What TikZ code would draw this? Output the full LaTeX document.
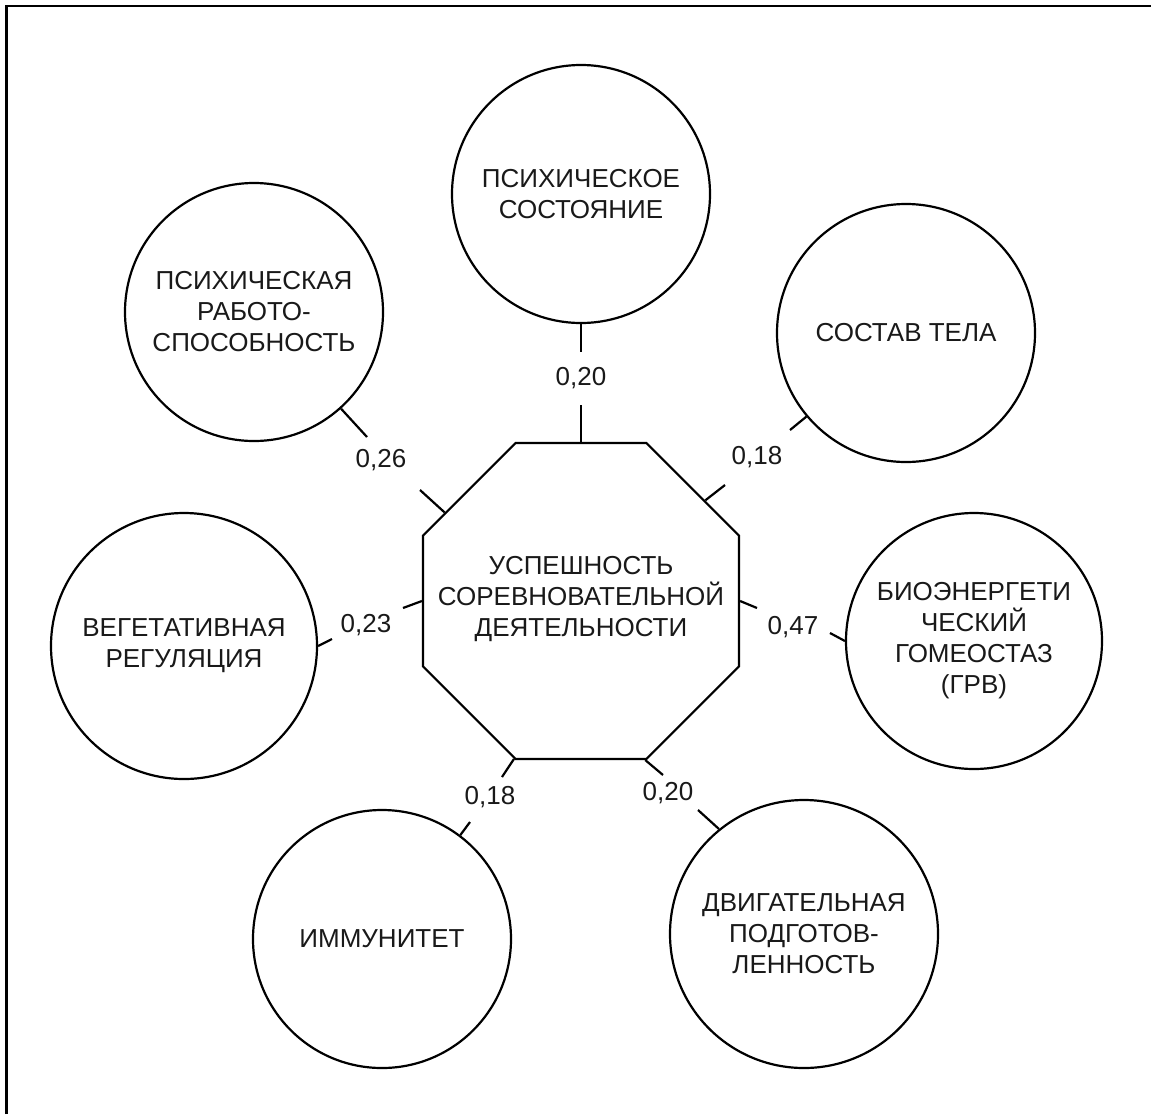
\documentclass[tikz,border=0pt]{standalone}
\usepackage{fontspec}
\setmainfont{Liberation Sans}
\usetikzlibrary{shapes.geometric}
\begin{document}
\begin{tikzpicture}[x=1pt,y=-1pt,
  every node/.style={font=\fontsize{26}{31}\selectfont, text=black!90},
  factor/.style={circle, draw, line width=2.2pt, align=center, inner sep=0pt},
  hub/.style={regular polygon, regular polygon sides=8, draw, line width=2.2pt, minimum size=342pt, inner sep=0pt},
  hubtext/.style={align=center, inner sep=0pt},
  link/.style={line width=2.2pt},
  wt/.style={inner sep=0pt}]
\useasboundingbox (0,0) rectangle (1151,1114);
\fill[white] (0,0) rectangle (1151,1114);
\draw[line width=2.8pt] (6.5,1114) -- (6.5,6) -- (1151,6);

% hub
\node[hub] (hub) at (581,601) {};
\node[hubtext] (hubt) at (581,599) {УСПЕШНОСТЬ\\СОРЕВНОВАТЕЛЬНОЙ\\ДЕЯТЕЛЬНОСТИ};

% factors
\node[factor, minimum size=258pt] (c1) at (581,194) {ПСИХИЧЕСКОЕ\\СОСТОЯНИЕ};
\node[factor, minimum size=258pt] (c2) at (254,312) {ПСИХИЧЕСКАЯ\\РАБОТО-\\СПОСОБНОСТЬ};
\node[factor, minimum size=258pt] (c3) at (906,333) {СОСТАВ ТЕЛА};
\node[factor, minimum size=266pt] (c4) at (184,646) {ВЕГЕТАТИВНАЯ\\РЕГУЛЯЦИЯ};
\node[factor, minimum size=256pt] (c5) at (974,641) {БИОЭНЕРГЕТИ\\ЧЕСКИЙ\\ГОМЕОСТАЗ\\(ГРВ)};
\node[factor, minimum size=258pt] (c6) at (382,939) {ИММУНИТЕТ};
\node[factor, minimum size=268pt] (c7) at (804,934) {ДВИГАТЕЛЬНАЯ\\ПОДГОТОВ-\\ЛЕННОСТЬ};

% weights
\node[wt] (w1) at (581,378) {0,20};
\node[wt] (w2) at (381,460) {0,26};
\node[wt] (w3) at (757,457) {0,18};
\node[wt] (w4) at (366,625) {0,23};
\node[wt] (w5) at (793,627) {0,47};
\node[wt] (w6) at (490,797) {0,18};
\node[wt] (w7) at (668,793) {0,20};

% stub ends
\coordinate (a1) at (581,352); \coordinate (b1) at (581,405);
\coordinate (a2) at (367,437); \coordinate (b2) at (420,490);
\coordinate (a3) at (790,430); \coordinate (b3) at (725,485);
\coordinate (a4) at (332,639); \coordinate (b4) at (403,608);
\coordinate (a5) at (830,633); \coordinate (b5) at (757,608);
\coordinate (a6) at (470,822); \coordinate (b6) at (502,777);
\coordinate (a7) at (698,810); \coordinate (b7) at (663,775);

\draw[link] (c1.-90) -- (a1);   \draw[link] (b1) -- (hub.90);
\draw[link] (c2.-48) -- (a2);   \draw[link] (b2) -- (hub.147.5);
\draw[link] (c3.220.6) -- (a3); \draw[link] (b3) -- (hub.39);
\draw[link] (c4.0) -- (a4);     \draw[link] (b4) -- (hub.180);
\draw[link] (c5.180) -- (a5);   \draw[link] (b5) -- (hub.0);
\draw[link] (c6.53) -- (a6);    \draw[link] (b6) -- (hub.247.5);
\draw[link] (c7.129.6) -- (a7); \draw[link] (b7) -- (hub.292.5);
\end{tikzpicture}
\end{document}
